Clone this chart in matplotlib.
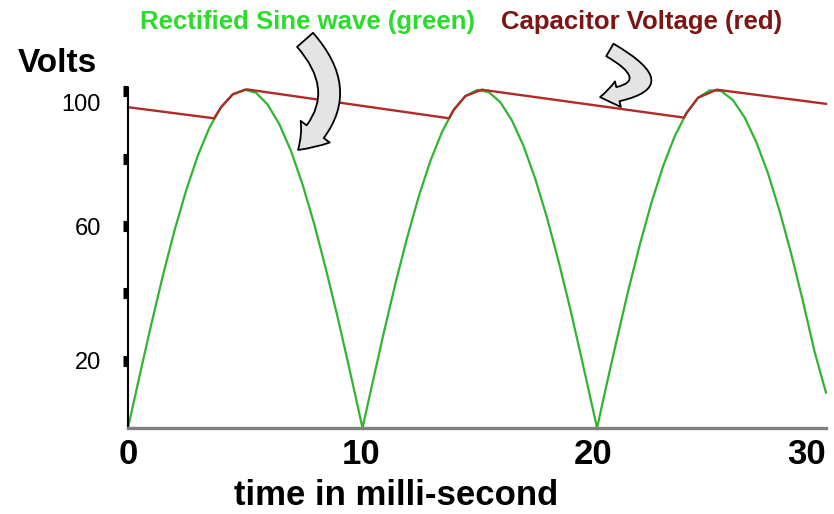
import matplotlib
matplotlib.use('Agg')
import matplotlib.pyplot as plt
import matplotlib.transforms as mtransforms

plt.rcParams['font.family'] = ['Liberation Sans', 'DejaVu Sans']

# rectified sine wave (green)
t_sine = [0, 0.5, 1, 1.5, 2, 2.5, 3, 3.5, 4, 4.5, 5, 5.5, 6, 6.5, 7, 7.5, 8, 8.5, 9, 9.5, 10, 10.08,
          10.5, 11, 11.5, 12, 12.5, 13, 13.5, 14, 14.5, 15, 15.5, 16, 16.5, 17, 17.5, 18, 18.5, 19, 19.5, 20, 20.16,
          20.5, 21, 21.5, 22, 22.5, 23, 23.5, 24, 24.5, 25, 25.5, 26, 26.5, 27, 27.5, 28, 28.5, 29, 29.5, 30]
v_sine = [0, 15.6, 30.8, 45.3, 58.7, 70.6, 80.9, 89.2, 95.3, 99.1, 100.5, 99.6, 96.1, 90.3, 82.4, 72.4, 60.7, 47.4, 33.2, 18.1, 2.5, 0,
          13.1, 28.5, 43.1, 56.6, 68.9, 79.4, 88.0, 94.5, 98.6, 100.4, 99.8, 96.8, 91.4, 83.8, 74.1, 62.7, 49.7, 35.6, 20.5, 5.0, 0,
          10.7, 26.0, 40.8, 54.5, 67.0, 77.8, 86.7, 93.5, 98.1, 100.3, 100.1, 97.4, 92.3, 85.0, 75.8, 64.6, 51.9, 37.9, 22.9, 10.5]

# capacitor voltage (red)
t_cap = [0, 3.7, 4.0, 4.5, 5.1, 13.8, 14.0, 14.5, 15.2, 23.9, 24.0, 24.5, 25.3, 30]
v_cap = [95.3, 92.0, 95.3, 99.1, 100.6, 92.0, 94.5, 98.6, 100.5, 92.2, 93.5, 98.1, 100.5, 96.3]

x_ticks = [0, 10, 20, 30]
y_ticks = [20, 40, 60, 80, 100]
y_ticklabels = ['20', '', '60', '', '100']

W, H = 834, 514
fig = plt.figure(figsize=(W/100, H/100), dpi=100)
ax = fig.add_axes([128/W, 86/H, 698/W, 340/H])

ax.plot(t_sine, v_sine, color='#2fb52f', lw=1.6, clip_on=False)
ax.plot(t_cap, v_cap, color='#b02a2a', lw=1.7, clip_on=False)

ax.set_xlim(0, 30)
ax.set_ylim(0, 101)

for s in ['top', 'right']:
    ax.spines[s].set_visible(False)
ax.spines['left'].set_color('black')
ax.spines['left'].set_linewidth(1.5)
ax.spines['bottom'].set_color('#808080')
ax.spines['bottom'].set_linewidth(2.4)

ax.set_xticks(x_ticks)
ax.set_xticklabels([str(v) for v in x_ticks], fontsize=25, fontweight='bold')
ax.tick_params(axis='x', length=0, pad=7)
ax.get_xticklabels()[-1].set_ha('right')

ax.set_yticks(y_ticks)
ax.set_yticklabels(y_ticklabels, fontsize=17)
ax.tick_params(axis='y', length=3.6, width=8, pad=16, color='black')
lab = ax.get_yticklabels()[-1]
lab.set_transform(lab.get_transform() + mtransforms.ScaledTranslation(0, -8/72, fig.dpi_scale_trans))

# curved call-out arrows
ax.annotate('', xy=(7.31, 82.6), xytext=(7.61, 115.3), annotation_clip=False,
            arrowprops=dict(arrowstyle='simple,head_length=1.0,head_width=1.45,tail_width=0.85',
                            connectionstyle='arc3,rad=-0.5', fc='#e4e4e4', ec='black', lw=1.3,
                            mutation_scale=18, shrinkA=0, shrinkB=0))
ax.annotate('', xy=(20.29, 98.3), xytext=(20.71, 112.3), annotation_clip=False,
            arrowprops=dict(arrowstyle='simple,head_length=1.0,head_width=1.45,tail_width=0.8',
                            connectionstyle='arc3,rad=-1.5', fc='#e4e4e4', ec='black', lw=1.3,
                            mutation_scale=13, shrinkA=0, shrinkB=0))

fig.text(307/W, 1 - 22/H, 'Rectified Sine wave (green)', color='#2bdc2b', fontsize=18.5,
         fontweight='bold', ha='center', va='center')
fig.text(642/W, 1 - 22/H, 'Capacitor Voltage (red)', color='#7d1515', fontsize=18.5,
         fontweight='bold', ha='center', va='center')
fig.text(57/W, 1 - 64/H, 'Volts', fontsize=24, fontweight='bold', ha='center', va='center')
fig.text(396/W, 2/H, 'time in milli-second', fontsize=25, fontweight='bold', ha='center', va='bottom')

fig.savefig('out.png', dpi=100)
